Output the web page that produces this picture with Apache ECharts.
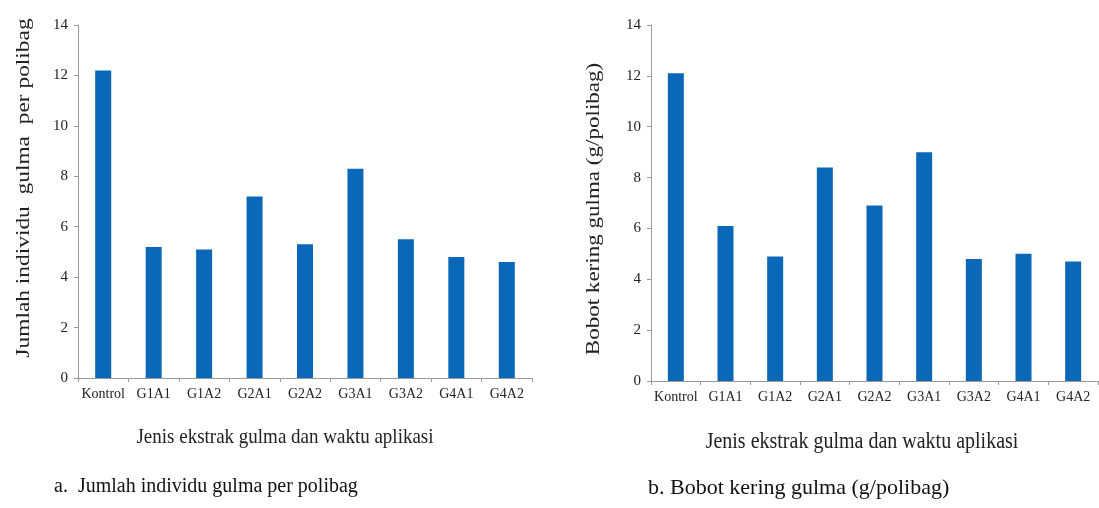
<!DOCTYPE html>
<html><head><meta charset="utf-8">
<script src="https://cdn.jsdelivr.net/npm/echarts@6/dist/echarts.min.js"></script>
<style>html,body{margin:0;padding:0;background:#fff}#c{width:1099px;height:508px}</style>
</head><body><div id="c"></div>
<script>
// ---- data ----
const categories = ['Kontrol','G1A1','G1A2','G2A1','G2A2','G3A1','G3A2','G4A1','G4A2'];
const jumlahIndividu = [12.2, 5.2, 5.1, 7.2, 5.3, 8.3, 5.5, 4.8, 4.6];
const bobotKering = [12.1, 6.1, 4.9, 8.4, 6.9, 9.0, 4.8, 5.0, 4.7];
const yMin = 0, yMax = 14, yInterval = 2;
const yTitleA = 'Jumlah individu  gulma  per polibag';
const yTitleB = 'Bobot kering gulma (g/polibag)';
const xTitle = 'Jenis ekstrak gulma dan waktu aplikasi';
const captionA = 'a.  Jumlah individu gulma per polibag';
const captionB = 'b. Bobot kering gulma (g/polibag)';

const FONT = '"Liberation Serif", "DejaVu Serif", serif';
const BAR = '#0b67b7';
const AXIS = '#9a9a9a';

function xAxisCfg(gi){
  return {
    type:'category', gridIndex:gi, data:categories, boundaryGap:true,
    axisLine:{show:true, lineStyle:{color:AXIS, width:1}},
    axisTick:{show:true, alignWithLabel:false, length:4, lineStyle:{color:AXIS}},
    axisLabel:{interval:0, color:'#222', fontFamily:FONT, fontSize:14, margin:9},
    splitLine:{show:false}
  };
}
function yAxisCfg(gi){
  return {
    type:'value', gridIndex:gi, min:yMin, max:yMax, interval:yInterval,
    axisLine:{show:true, lineStyle:{color:AXIS, width:1}},
    axisTick:{show:true, length:4, lineStyle:{color:AXIS}},
    axisLabel:{color:'#222', fontFamily:FONT, fontSize:15, margin:10},
    splitLine:{show:false}
  };
}

const chart = echarts.init(document.getElementById('c'), null, {renderer:'canvas'});
chart.setOption({
  animation:false,
  backgroundColor:'#fff',
  grid:[
    {left:78, right:1099-532, top:25, bottom:508-378},
    {left:651, right:1, top:25, bottom:508-381}
  ],
  xAxis:[xAxisCfg(0), xAxisCfg(1)],
  yAxis:[yAxisCfg(0), yAxisCfg(1)],
  series:[
    {type:'bar', xAxisIndex:0, yAxisIndex:0, data:jumlahIndividu, barWidth:16, itemStyle:{color:BAR}},
    {type:'bar', xAxisIndex:1, yAxisIndex:1, data:bobotKering, barWidth:16, itemStyle:{color:BAR}}
  ],
  graphic:[
    {type:'text', x:24, y:188, rotation:Math.PI/2, scaleX:1.3,
      style:{text:yTitleA, font:'18px '+FONT, fill:'#222', align:'center', verticalAlign:'middle'}},
    {type:'text', x:594, y:209, rotation:Math.PI/2, scaleX:1.28,
      style:{text:yTitleB, font:'18px '+FONT, fill:'#222', align:'center', verticalAlign:'middle'}},
    {type:'text', x:285, y:437, scaleY:1.15,
      style:{text:xTitle, font:'19px '+FONT, fill:'#222', align:'center', verticalAlign:'middle'}},
    {type:'text', x:862, y:442, scaleY:1.15,
      style:{text:xTitle, font:'20px '+FONT, fill:'#222', align:'center', verticalAlign:'middle'}},
    {type:'text', x:54, y:487,
      style:{text:captionA, font:'20px '+FONT, fill:'#111', align:'left', verticalAlign:'middle'}},
    {type:'text', x:648, y:488,
      style:{text:captionB, font:'22px '+FONT, fill:'#111', align:'left', verticalAlign:'middle'}}
  ]
});
</script></body></html>
